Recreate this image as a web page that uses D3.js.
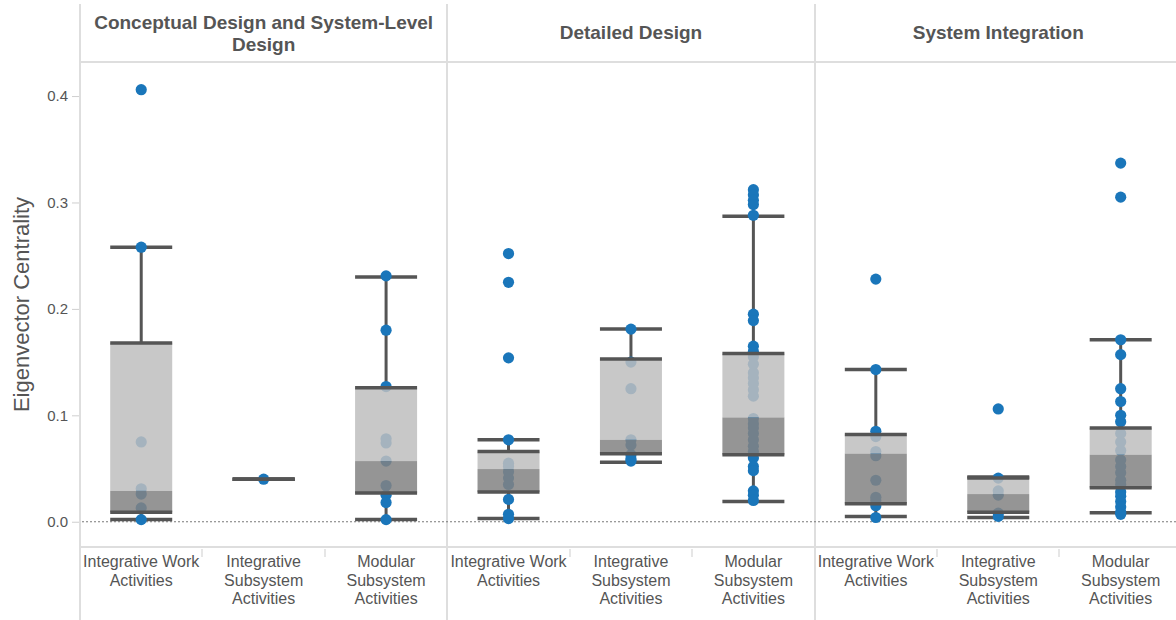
<!DOCTYPE html>
<html>
<head>
<meta charset="utf-8">
<script src="https://cdn.jsdelivr.net/npm/d3@7"></script>
<style>
  html, body { margin: 0; padding: 0; background: #fff; }
  svg { display: block; font-family: "Liberation Sans", Arial, Helvetica, sans-serif; }
</style>
</head>
<body>
<svg id="chart" width="1176" height="620"></svg>
<script>
// Project phases (column facets) and activity types (categories inside each facet)
const phases = ["Conceptual Design and System-Level Design", "Detailed Design", "System Integration"];
const phaseLines = [["Conceptual Design and System-Level", "Design"], ["Detailed Design"], ["System Integration"]];
const activities = ["Integrative Work Activities", "Integrative Subsystem Activities", "Modular Subsystem Activities"];
const activityLines = [["Integrative Work", "Activities"], ["Integrative", "Subsystem", "Activities"], ["Modular", "Subsystem", "Activities"]];
const yTicks = [0, 0.1, 0.2, 0.3, 0.4];

// Box-plot statistics, phase by phase, three activity types each
const whiskerLow  = [0.002, 0.040, 0.002,  0.003, 0.056, 0.019,  0.005, 0.004, 0.0085];
const lowerHinge  = [0.009, 0.040, 0.027,  0.028, 0.064, 0.063,  0.017, 0.009, 0.032];
const medians     = [0.029, 0.040, 0.057,  0.0495, 0.077, 0.098, 0.064, 0.026, 0.063];
const upperHinge  = [0.168, 0.040, 0.126,  0.066, 0.153, 0.158,  0.082, 0.041, 0.088];
const whiskerHigh = [0.258, 0.040, 0.230,  0.077, 0.181, 0.287,  0.143, 0.042, 0.171];

// Eigenvector centrality of individual activities
const conceptualPoints = [
  [0.406, 0.258, 0.075, 0.031, 0.026, 0.013, 0.002],
  [0.040],
  [0.231, 0.180, 0.127, 0.078, 0.074, 0.057, 0.034, 0.025, 0.018, 0.002]
];
const detailedPoints = [
  [0.252, 0.225, 0.154, 0.077, 0.055, 0.052, 0.047, 0.041, 0.035, 0.021, 0.007, 0.003],
  [0.181, 0.150, 0.125, 0.077, 0.072, 0.063, 0.059, 0.057],
  [0.312, 0.307, 0.302, 0.298, 0.288, 0.195, 0.189, 0.165, 0.160, 0.155, 0.148, 0.140,
   0.135, 0.130, 0.124, 0.118, 0.097, 0.092, 0.088, 0.083, 0.077, 0.071, 0.066, 0.060,
   0.052, 0.048, 0.029, 0.025, 0.020]
];
const integrationPoints = [
  [0.228, 0.143, 0.085, 0.080, 0.066, 0.062, 0.039, 0.023, 0.020, 0.015, 0.004],
  [0.106, 0.041, 0.029, 0.025, 0.008, 0.005],
  [0.337, 0.305, 0.171, 0.157, 0.125, 0.113, 0.100, 0.094, 0.083, 0.075, 0.067, 0.058,
   0.052, 0.046, 0.039, 0.035, 0.028, 0.024, 0.019, 0.014, 0.009, 0.007]
];
const pointsByPhase = [conceptualPoints, detailedPoints, integrationPoints];

// Layout
const left = 80, panelW = 367.3;
const headerTop = 4, headerBottom = 62, plotBottom = 547, height = 620, width = 1176;
const boxW = 62;
const gridColor = "#dedede", textColor = "#555", inkColor = "#555";

const svg = d3.select("#chart");

const xPhase = d3.scaleBand().domain(phases).range([left, left + panelW * phases.length]);
const xAct = d3.scaleBand().domain(activities).range([0, panelW]);
const y = d3.scaleLinear().domain([-0.0228, 0.432]).range([plotBottom - 1, headerBottom]);

// Frame: header divider, bottom rule, facet dividers
const frame = svg.append("g");
frame.append("line").attr("x1", left).attr("x2", width).attr("y1", headerBottom).attr("y2", headerBottom)
  .attr("stroke", gridColor).attr("stroke-width", 2);
frame.append("line").attr("x1", left).attr("x2", width).attr("y1", plotBottom).attr("y2", plotBottom)
  .attr("stroke", gridColor).attr("stroke-width", 2);
frame.selectAll("line.facet").data(phases).join("line").attr("class", "facet")
  .attr("x1", d => Math.round(xPhase(d))).attr("x2", d => Math.round(xPhase(d)))
  .attr("y1", headerTop).attr("y2", height)
  .attr("stroke", gridColor).attr("stroke-width", 2);

// Short separators between activity labels
phases.forEach(p => {
  [1, 2].forEach(i => {
    const xx = Math.round(xPhase(p) + xAct.step() * i);
    frame.append("line").attr("x1", xx).attr("x2", xx).attr("y1", plotBottom + 2).attr("y2", plotBottom + 10)
      .attr("stroke", gridColor).attr("stroke-width", 1.5);
  });
});

// Y axis
const yAxis = d3.axisLeft(y).tickValues(yTicks).tickFormat(d3.format(".1f")).tickSize(7).tickPadding(4);
const gy = svg.append("g").attr("transform", `translate(${left - 1},0)`).call(yAxis);
gy.select(".domain").remove();
gy.selectAll(".tick line").attr("stroke", "#cfcfcf");
gy.selectAll(".tick text").attr("fill", textColor).style("font-size", "15px")
  .style("font-family", "'Liberation Sans', Arial, sans-serif");

svg.append("text")
  .attr("transform", `translate(29,${(headerBottom + plotBottom) / 2}) rotate(-90)`)
  .attr("text-anchor", "middle").attr("fill", textColor).style("font-size", "22px")
  .text("Eigenvector Centrality");

// Zero reference line
svg.append("line").attr("x1", left + 2).attr("x2", width).attr("y1", y(0)).attr("y2", y(0))
  .attr("stroke", "#7a7a7a").attr("stroke-width", 1.2).attr("stroke-dasharray", "2,2");

// Facet headers
phases.forEach((p, i) => {
  const lines = phaseLines[i];
  const cx = xPhase(p) + panelW / 2;
  const t = svg.append("text").attr("text-anchor", "middle").attr("fill", textColor)
    .style("font-size", "19px").style("font-weight", "bold");
  const firstBaseline = lines.length > 1 ? 29 : 39;
  lines.forEach((ln, k) => {
    t.append("tspan").attr("x", cx).attr("y", firstBaseline + k * 22).text(ln);
  });
});

// Activity labels
phases.forEach(p => {
  activities.forEach((a, j) => {
    const cx = xPhase(p) + xAct(a) + xAct.bandwidth() / 2;
    const t = svg.append("text").attr("text-anchor", "middle").attr("fill", textColor).style("font-size", "16px");
    activityLines[j].forEach((ln, k) => {
      t.append("tspan").attr("x", cx).attr("y", 567 + k * 18.5).text(ln);
    });
  });
});

// Box plots
const groups = [];
phases.forEach((p, i) => activities.forEach((a, j) => {
  const idx = i * activities.length + j;
  groups.push({
    cx: xPhase(p) + xAct(a) + xAct.bandwidth() / 2,
    lo: whiskerLow[idx], q1: lowerHinge[idx], med: medians[idx], q3: upperHinge[idx], hi: whiskerHigh[idx],
    pts: pointsByPhase[i][j]
  });
}));

const gWhisk = svg.append("g");
const gPts = svg.append("g");
const gBox = svg.append("g");
const gEdge = svg.append("g");

groups.forEach(g => {
  // whisker stems
  gWhisk.append("line").attr("x1", g.cx).attr("x2", g.cx).attr("y1", y(g.hi)).attr("y2", y(g.q3))
    .attr("stroke", inkColor).attr("stroke-width", 3);
  gWhisk.append("line").attr("x1", g.cx).attr("x2", g.cx).attr("y1", y(g.q1)).attr("y2", y(g.lo))
    .attr("stroke", inkColor).attr("stroke-width", 3);
  // whisker caps
  [g.lo, g.hi].forEach(v => {
    gWhisk.append("line").attr("x1", g.cx - boxW / 2).attr("x2", g.cx + boxW / 2).attr("y1", y(v)).attr("y2", y(v))
      .attr("stroke", inkColor).attr("stroke-width", 3.5);
  });
  // activity points
  gPts.selectAll(null).data(g.pts).join("circle")
    .attr("cx", g.cx).attr("cy", d => y(d)).attr("r", 5.6).attr("fill", "#1a76ba");
  // box bands: upper (median to Q3) and lower (Q1 to median)
  gBox.append("rect").attr("x", g.cx - boxW / 2).attr("width", boxW)
    .attr("y", y(g.q3)).attr("height", Math.max(0, y(g.med) - y(g.q3)))
    .attr("fill", "#bebebe").attr("fill-opacity", 0.85);
  gBox.append("rect").attr("x", g.cx - boxW / 2).attr("width", boxW)
    .attr("y", y(g.med)).attr("height", Math.max(0, y(g.q1) - y(g.med)))
    .attr("fill", "#838383").attr("fill-opacity", 0.85);
  // hinge edges
  [g.q1, g.q3].forEach(v => {
    gEdge.append("line").attr("x1", g.cx - boxW / 2).attr("x2", g.cx + boxW / 2).attr("y1", y(v)).attr("y2", y(v))
      .attr("stroke", inkColor).attr("stroke-width", 3.5);
  });
});
</script>
</body>
</html>
